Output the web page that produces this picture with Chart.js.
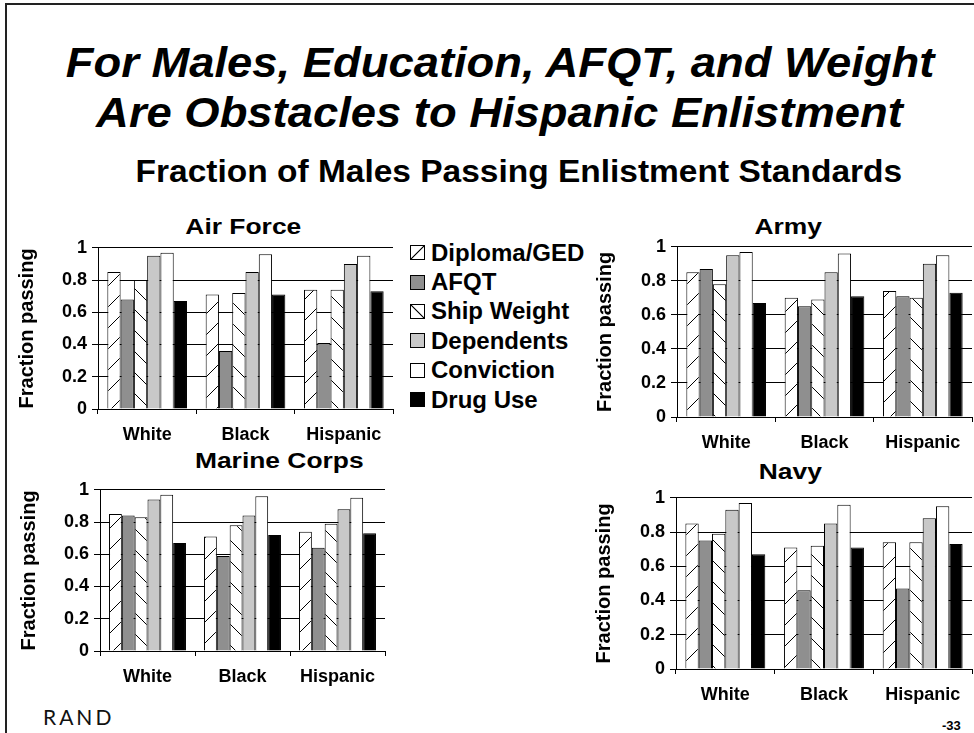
<!DOCTYPE html>
<html>
<head>
<meta charset="utf-8">
<script src="https://cdn.jsdelivr.net/npm/chart.js@4.4.1/dist/chart.umd.min.js"></script>
<style>
  body { margin: 0; background: #fff; font-family: "Liberation Sans", Arial, sans-serif; }
  #page { position: relative; width: 974px; height: 733px; overflow: hidden; background: #fff; }
  .rule { position: absolute; background: #222; }
  .line { position: absolute; left: 0; width: 974px; text-align: center; white-space: nowrap; font-weight: bold; color: #000; }
  .line span { display: inline-block; }
  .panel-title { position: absolute; width: 300px; margin-left: -150px; text-align: center; font-weight: bold; font-size: 22px; line-height: 22px; white-space: nowrap; }
  .panel-title span { display: inline-block; transform: scaleX(1.2); }
  canvas { position: absolute; }
  #legend { position: absolute; left: 410px; top: 238px; }
  .item { display: flex; align-items: center; height: 29.4px; font-weight: bold; font-size: 24px; white-space: nowrap; }
  .swatch { width: 13px; height: 13px; border: 1px solid #000; margin-right: 6px; flex: none; }
</style>
</head>
<body>
<div id="page">
  <div class="rule" style="left:5px; top:3px; width:969px; height:2px;"></div>
  <div class="rule" style="left:5px; top:3px; width:2px; height:730px;"></div>

  <div class="line" style="top:42px; left:13px; font-size:42px; line-height:42px; font-style:italic;"><span style="transform:scaleX(1.08)">For Males, Education, AFQT, and Weight</span></div>
  <div class="line" style="top:92px; left:12px; font-size:42px; line-height:42px; font-style:italic;"><span style="transform:scaleX(1.08)">Are Obstacles to Hispanic Enlistment</span></div>
  <div class="line" style="top:156px; left:32px; font-size:31px; line-height:31px;"><span style="transform:scaleX(1.08)">Fraction of Males Passing Enlistment Standards</span></div>

  <div class="panel-title" style="left:243px; top:216px;"><span>Air Force</span></div>
  <div class="panel-title" style="left:788px; top:216px;"><span>Army</span></div>
  <div class="panel-title" style="left:279px; top:450px;"><span>Marine Corps</span></div>
  <div class="panel-title" style="left:790px; top:461px;"><span>Navy</span></div>

  <canvas id="airForce"></canvas>
  <canvas id="army"></canvas>
  <canvas id="marines"></canvas>
  <canvas id="navy"></canvas>

  <div id="legend"></div>

  <div style="position:absolute; left:43px; top:706px; font-family:Lato, 'Noto Sans', sans-serif; font-size:21px; line-height:21px; letter-spacing:3px; color:#111;">RAND</div>
  <div style="position:absolute; left:942px; top:719px; font-size:13px; line-height:13px; font-weight:bold;">-33</div>
</div>

<script>
'use strict';
// ******* Data *******
let groups = ['White', 'Black', 'Hispanic'];
let standards = ['Diploma/GED', 'AFQT', 'Ship Weight', 'Dependents', 'Conviction', 'Drug Use'];
let yTicks = [0, 0.2, 0.4, 0.6, 0.8, 1];

// rows follow `standards`, columns follow `groups`
let airForceValues = [
  [0.85, 0.71, 0.74],
  [0.68, 0.36, 0.41],
  [0.80, 0.72, 0.74],
  [0.95, 0.85, 0.90],
  [0.97, 0.96, 0.95],
  [0.67, 0.71, 0.73]
];
let armyValues = [
  [0.85, 0.70, 0.74],
  [0.87, 0.65, 0.71],
  [0.78, 0.69, 0.70],
  [0.95, 0.85, 0.90],
  [0.97, 0.96, 0.95],
  [0.67, 0.71, 0.73]
];
let marineValues = [
  [0.85, 0.71, 0.74],
  [0.84, 0.59, 0.64],
  [0.83, 0.78, 0.79],
  [0.94, 0.84, 0.88],
  [0.97, 0.96, 0.95],
  [0.67, 0.72, 0.73]
];
let navyValues = [
  [0.85, 0.71, 0.74],
  [0.75, 0.46, 0.47],
  [0.79, 0.72, 0.74],
  [0.93, 0.85, 0.88],
  [0.97, 0.96, 0.95],
  [0.67, 0.71, 0.73]
];

// ****** Styles ******
let fillKinds = ['hatchUp', '#8f8f8f', 'hatchDown', '#c8c8c8', '#ffffff', '#000000'];
let fontFamily = '"Liberation Sans", Arial, sans-serif';

// ****** Panel placement (plot area box + y title centre) ******
let panels = [
  { id: 'airForce', values: airForceValues, left: 98, top: 246, right: 393, bottom: 409, titleX: 27 },
  { id: 'army', values: armyValues, left: 677, top: 245, right: 972, bottom: 417, titleX: 605 },
  { id: 'marines', values: marineValues, left: 100, top: 488, right: 385, bottom: 651, titleX: 29 },
  { id: 'navy', values: navyValues, left: 676, top: 496, right: 972, bottom: 669, titleX: 604 }
];

function makeHatch(ctx, kind) {
  let size = 21;
  let tile = document.createElement('canvas');
  tile.width = size;
  tile.height = size;
  let g = tile.getContext('2d');
  g.fillStyle = '#fff';
  g.fillRect(0, 0, size, size);
  g.strokeStyle = '#000';
  g.lineWidth = 1;
  g.beginPath();
  if (kind === 'hatchUp') {
    g.moveTo(-1, size + 1);
    g.lineTo(size + 1, -1);
  } else {
    g.moveTo(-1, -1);
    g.lineTo(size + 1, size + 1);
  }
  g.stroke();
  return ctx.createPattern(tile, 'repeat');
}

function renderPanel(p) {
  let canvas = document.getElementById(p.id);
  let padTop = 14;
  let padRight = 2;
  let xHeight = 40;
  let canvasLeft = p.titleX - 12;
  let canvasTop = p.top - padTop;
  canvas.width = p.right + padRight - canvasLeft;
  canvas.height = p.bottom + xHeight - canvasTop;
  canvas.style.left = canvasLeft + 'px';
  canvas.style.top = canvasTop + 'px';
  let yWidth = p.left - canvasLeft;
  let ctx = canvas.getContext('2d');

  let datasets = [];
  for (let i = 0; i < standards.length; i++) {
    let kind = fillKinds[i];
    let fill = kind.startsWith('hatch') ? makeHatch(ctx, kind) : kind;
    datasets.push({
      label: standards[i],
      data: p.values[i],
      backgroundColor: fill,
      borderColor: '#000',
      borderWidth: 1,
      categoryPercentage: 0.81,
      barPercentage: 1
    });
  }

  new Chart(canvas, {
    type: 'bar',
    data: { labels: groups, datasets: datasets },
    options: {
      responsive: false,
      animation: false,
      layout: { padding: { top: padTop, right: padRight, left: 0, bottom: 0 } },
      plugins: { legend: { display: false }, tooltip: { enabled: false } },
      scales: {
        x: {
          grid: { drawOnChartArea: false, drawTicks: true, tickLength: 5, color: '#000', offset: true },
          border: { display: true, color: '#000', width: 1 },
          ticks: { color: '#000', padding: 10, font: { family: fontFamily, size: 18, weight: 'bold' } },
          afterFit: function (scale) { scale.height = xHeight; }
        },
        y: {
          min: 0,
          max: 1,
          afterBuildTicks: function (scale) { scale.ticks = yTicks.map(v => ({ value: v })); },
          ticks: {
            color: '#000',
            padding: 5,
            font: { family: fontFamily, size: 18, weight: 'bold' },
            callback: function (value) { return String(Math.round(value * 10) / 10); }
          },
          grid: { color: '#000', lineWidth: 1, tickLength: 6 },
          border: { display: true, color: '#000', width: 1 },
          title: { display: true, text: 'Fraction passing', color: '#000', padding: 0, font: { family: fontFamily, size: 20, weight: 'bold' } },
          afterFit: function (scale) { scale.width = yWidth; }
        }
      }
    }
  });
}

panels.forEach(renderPanel);

// ****** Legend ******
let legend = document.getElementById('legend');
for (let i = 0; i < standards.length; i++) {
  let row = document.createElement('div');
  row.className = 'item';
  let sw = document.createElement('div');
  sw.className = 'swatch';
  let kind = fillKinds[i];
  if (kind === 'hatchUp') {
    sw.style.background = 'linear-gradient(to bottom right, #fff calc(50% - 1px), #000 50%, #fff calc(50% + 1px))';
  } else if (kind === 'hatchDown') {
    sw.style.background = 'linear-gradient(to top right, #fff calc(50% - 1px), #000 50%, #fff calc(50% + 1px))';
  } else {
    sw.style.background = kind;
  }
  let label = document.createElement('span');
  label.textContent = standards[i];
  row.appendChild(sw);
  row.appendChild(label);
  legend.appendChild(row);
}
</script>
</body>
</html>
